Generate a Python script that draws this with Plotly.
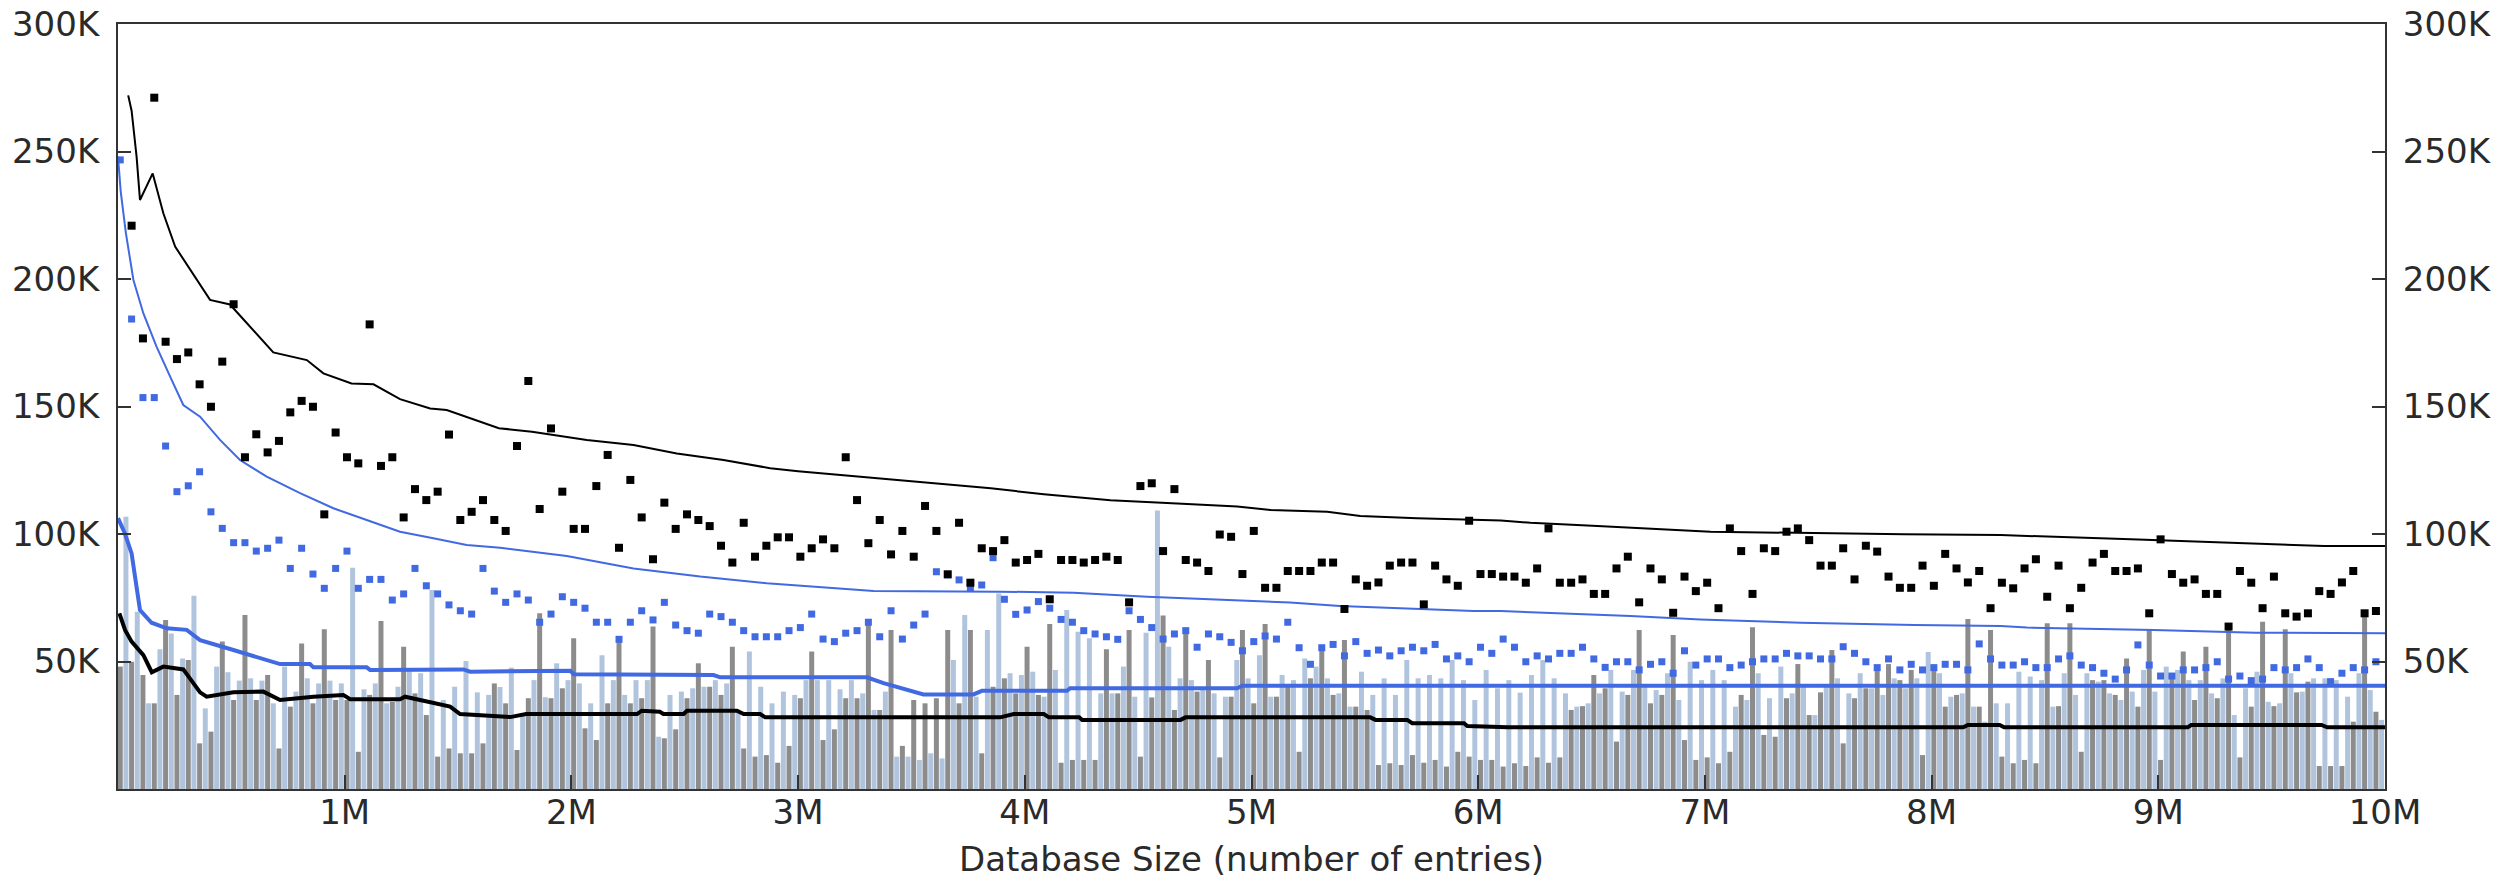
import plotly.graph_objects as go

# ---------------- data (values in thousands, x positions in entries) ----------------
n_points = 200
db_size = [10_000 + 50_000 * i for i in range(n_points)]

black_pts = [None, 220.9, 176.7, 271.1, 175.4, 168.6, 171.2, 158.7, 149.9, 167.6,
             190.1, 130.1, 139.1, 132.0, 136.5, 147.7, 152.2, 149.9, 107.7, 139.8,
             130.1, 127.7, 182.2, 126.7, 130.1, 106.5, 117.6, 113.3, 116.6, 139.0,
             105.5, 108.7, 113.3, 105.5, 101.2, 134.5, 160.0, 109.8, 141.4, 116.6,
             102.0, 102.0, 118.8, 131.0, 94.6, 121.2, 106.5, 90.1, 112.3, 102.0,
             107.7, 105.5, 103.1, 95.4, 88.8, 104.4, 91.1, 95.4, 98.7, 98.7,
             91.1, 94.4, 97.9, 94.4, 130.1, 113.3, 96.4, 105.5, 92.0, 101.2,
             91.1, 111.0, 101.2, 84.2, 104.4, 80.9, 94.4, 93.3, 97.6, 88.8,
             89.8, 92.2, 74.4, 89.8, 89.8, 88.8, 89.8, 91.1, 89.8, 73.2,
             118.8, 119.9, 93.3, 117.6, 89.8, 88.8, 85.5, 99.8, 98.9, 84.3,
             101.2, 78.9, 78.9, 85.5, 85.5, 85.5, 88.8, 88.8, 70.6, 82.2,
             79.7, 81.0, 87.6, 88.8, 88.8, 72.4, 87.6, 82.2, 79.7, 105.2,
             84.3, 84.3, 83.3, 83.3, 80.9, 86.5, 102.2, 80.9, 80.9, 82.2,
             76.5, 76.5, 86.5, 91.1, 73.2, 86.5, 82.2, 69.1, 83.3, 77.6,
             80.9, 70.9, 102.2, 93.3, 76.5, 94.4, 93.3, 100.9, 102.2, 97.6,
             87.6, 87.6, 94.4, 82.2, 95.4, 93.1, 83.3, 78.9, 78.9, 87.6,
             79.7, 92.2, 86.5, 81.0, 85.5, 70.9, 80.9, 78.7, 86.5, 90.1,
             75.4, 87.6, 70.9, 78.9, 88.8, 92.2, 85.5, 85.5, 86.5, 68.9,
             97.9, 84.3, 80.9, 82.2, 76.5, 76.5, 63.7, 85.5, 80.9, 70.9,
             83.3, 68.9, 67.6, 68.9, 77.6, 76.5, 81.0, 85.5, 68.9, 69.8]

blue_pts = [246.7, 184.3, 153.5, 153.5, 134.5, 116.6, 118.9, 124.4, 108.7, 102.2,
            96.6, 96.6, 93.3, 94.4, 97.6, 86.5, 94.4, 84.3, 78.7, 86.5,
            93.3, 78.7, 82.2, 82.2, 74.1, 76.5, 86.5, 79.7, 76.5, 72.2,
            69.9, 68.6, 86.5, 77.6, 73.2, 76.5, 74.1, 65.4, 68.6, 75.4,
            73.2, 70.9, 65.4, 65.4, 58.7, 65.4, 69.9, 66.3, 73.2, 64.3,
            62.1, 61.1, 68.6, 67.6, 65.4, 62.1, 59.7, 59.7, 59.7, 62.1,
            63.3, 68.6, 58.8, 57.8, 61.1, 62.1, 65.4, 59.7, 69.9, 58.8,
            64.3, 68.6, 85.2, 84.0, 82.0, 79.0, 80.0, 90.7, 74.4, 68.5,
            70.2, 73.5, 70.9, 66.5, 65.4, 62.1, 60.8, 59.7, 58.7, 69.9,
            66.5, 63.3, 58.8, 60.8, 62.1, 55.6, 60.8, 59.7, 57.5, 54.2,
            57.8, 60.0, 58.8, 65.4, 55.4, 48.9, 55.4, 56.7, 52.2, 57.8,
            53.2, 54.5, 52.2, 54.2, 55.6, 54.2, 56.7, 51.0, 52.2, 49.9,
            55.6, 53.2, 58.8, 55.6, 49.9, 52.2, 51.0, 53.2, 53.2, 55.6,
            51.0, 47.7, 49.9, 49.9, 46.7, 48.9, 49.9, 45.4, 54.2, 48.6,
            51.0, 51.0, 47.6, 48.6, 49.9, 51.0, 51.0, 53.2, 52.2, 52.2,
            51.0, 51.0, 55.8, 53.2, 49.9, 47.6, 51.0, 46.7, 48.9, 46.7,
            47.6, 48.9, 48.9, 46.7, 56.9, 51.0, 48.6, 48.6, 49.9, 47.6,
            47.6, 51.0, 52.2, 48.6, 47.6, 45.4, 43.1, 46.7, 56.5, 48.6,
            44.3, 44.3, 46.7, 46.7, 47.6, 49.9, 43.1, 44.3, 42.5, 43.1,
            47.6, 46.7, 47.6, 51.0, 47.6, 42.1, 45.4, 47.6, 46.7, 49.9]

gray_bars = [48.0,
             49.9, 44.7, 33.6, 66.3, 36.9, 50.6, 17.9, 22.5, 57.8, 34.9,
             68.2, 34.9, 44.7, 15.9, 32.3, 57.1, 33.6, 62.6, 34.9, 34.9,
             14.6, 36.9, 65.9, 34.2, 55.8, 37.5, 29.0, 12.7, 15.9, 14.0,
             14.0, 17.9, 41.4,
             33.6, 15.3, 35.6, 68.9, 35.6, 39.5, 59.1, 23.8, 19.2, 33.6,
             58.4, 33.6, 35.6, 63.7, 19.9, 23.4, 35.6, 49.3, 40.1, 36.9,
             55.8, 15.9, 12.7, 13.3, 10.3, 16.9, 35.6, 53.9, 19.2, 23.4,
             35.6, 35.6, 64.3, 31.0, 62.4, 16.9, 34.9, 33.6, 35.6, 62.4,
             33.6, 62.4, 14.0, 40.1,
             43.4, 37.5, 55.8, 36.9, 64.7, 10.3, 11.4, 11.4, 11.4, 54.8,
             37.5, 62.4, 12.7, 35.9, 68.0, 31.0, 62.4, 38.2, 50.6, 12.4,
             36.2, 62.4, 33.6, 64.7, 36.2, 40.1, 14.6, 43.4, 54.8, 36.9,
             58.4, 32.3, 31.0, 9.4, 10.1, 9.4, 13.3, 10.3, 11.4, 8.8,
             14.6, 12.7, 11.4, 11.4,
             8.8, 10.1, 9.0, 12.4, 10.3, 12.4, 31.0, 32.5, 44.7, 39.5,
             18.6, 36.9, 62.4, 33.6, 36.9, 60.4, 19.2, 11.4, 12.4, 10.1,
             14.6, 36.9, 63.4, 21.2, 20.5, 35.6, 49.0, 29.0, 37.9, 54.5,
             17.9, 35.6, 39.5, 48.2, 49.0, 42.7, 46.7, 13.3, 46.7, 32.3,
             36.9, 66.7, 32.3, 62.4,
             12.7, 10.1, 11.4, 10.1, 65.0, 32.5, 65.0, 14.6, 42.7, 42.7,
             36.9, 51.2, 32.3, 62.6, 11.4, 44.7, 53.9, 34.9, 55.8, 35.6,
             63.7, 12.4, 32.3, 65.6, 32.5, 62.6, 37.9, 42.1, 9.0, 9.0,
             9.0, 26.4, 68.2, 30.3]

light_bars = [106.8, 69.5, 33.6, 54.8, 61.0, 51.2, 75.8, 31.6, 48.0, 45.8,
              42.5, 43.4, 42.5, 33.6, 48.0, 38.2, 43.4, 41.4, 42.5, 41.4,
              86.8, 39.1, 41.4, 33.6, 40.1, 46.7, 45.4, 78.0, 34.9, 40.1,
              50.2, 37.9, 36.9, 40.0,
              47.6, 29.7, 42.7, 36.0, 49.3, 42.7, 41.4, 33.6, 52.5, 42.7,
              36.9, 42.7, 42.7, 20.5, 36.9, 38.2, 39.5, 40.1, 42.7, 41.4,
              31.0, 53.9, 40.1, 33.6, 38.2, 36.9, 42.7, 42.7, 42.7, 39.1,
              42.7, 37.5, 31.0, 38.2, 12.7, 12.7, 11.4, 14.0, 12.0, 50.6,
              68.2, 36.2, 62.4, 76.7,
              45.4, 44.7, 46.0, 36.2, 46.7, 70.2, 61.7, 59.1, 37.5, 37.5,
              48.0, 36.2, 61.3, 109.2, 55.8, 43.4, 42.7, 39.5, 37.5, 36.2,
              50.6, 43.4, 52.5, 36.2, 44.7, 42.7, 51.2, 48.0, 43.4, 37.5,
              32.3, 46.0, 36.9, 43.4, 36.9, 50.6, 43.4, 44.7, 43.4, 50.6,
              42.7, 34.9, 46.7, 39.5,
              42.7, 37.8, 44.7, 50.6, 43.4, 37.5, 32.3, 33.6, 37.5, 46.7,
              38.2, 46.7, 40.1, 38.8, 45.4, 34.9, 49.9, 42.7, 46.7, 42.7,
              32.3, 34.9, 45.4, 35.6, 48.0, 37.5, 40.1, 29.0, 40.8, 43.4,
              37.5, 45.4, 39.5, 36.9, 43.4, 39.5, 43.4, 53.7, 45.4, 36.2,
              37.5, 32.3, 26.4, 33.6,
              33.6, 46.0, 44.1, 42.7, 32.3, 45.4, 36.9, 45.4, 42.1, 37.5,
              34.9, 38.2, 46.7, 38.2, 48.0, 46.7, 42.7, 42.7, 37.5, 43.4,
              29.0, 39.5, 46.0, 34.2, 33.6, 45.4, 38.2, 43.4, 43.4, 42.7,
              36.2, 45.4, 38.8, 27.1]

# thin black curve (millions, thousands)
thin_black_x = [0.045, 0.06, 0.082, 0.097, 0.153, 0.2, 0.252, 0.31, 0.406, 0.494,
                0.568, 0.685, 0.833, 0.906, 1.03, 1.127, 1.244, 1.377, 1.45, 1.68,
                1.826, 2.068, 2.274, 2.465, 2.671, 2.877, 3.0, 3.27, 3.583, 3.85,
                4.084, 4.378, 4.672, 4.937, 5.084, 5.334, 5.48, 5.73, 6.1, 6.231,
                6.526, 6.826, 7.025, 7.878, 8.305, 8.879, 9.335, 9.732, 10.0]
thin_black_y = [272, 266, 248, 231, 241.4, 225.8, 212.7, 204.8, 191.8, 190,
                182.6, 171.2, 168.2, 163, 159, 158.7, 152.9, 149.2, 148.6, 141.5,
                140.1, 136.9, 134.9, 131.6, 129, 125.8, 124.6, 122.5, 120.1, 117.9,
                115.6, 113.2, 112, 110.8, 109.4, 108.7, 107.1, 106.2, 105.3, 104.4,
                103.1, 101.8, 100.9, 99.9, 99.6, 97.9, 96.6, 95.3, 95.3]

thin_blue_x = [0.0, 0.012, 0.035, 0.068, 0.112, 0.17, 0.23, 0.288, 0.362, 0.45,
               0.538, 0.656, 0.803, 0.95, 1.097, 1.244, 1.391, 1.538, 1.686, 1.98,
               2.274, 2.568, 2.862, 3.157, 3.333, 3.892, 4.215, 4.54, 4.834, 5.17,
               5.39, 5.687, 5.98, 6.099, 6.327, 6.672, 6.98, 7.424, 7.925, 8.305,
               8.42, 8.98, 9.43, 10.0]
thin_blue_y = [248, 234.3, 217.9, 199.6, 186.5, 173.5, 161.7, 150.6, 146, 136.9,
               129, 122.5, 116, 110.1, 105.5, 100.9, 98.3, 95.7, 94.6, 91.4,
               86.5, 83.3, 80.7, 78.9, 77.6, 77.4, 77, 75.4, 74.4, 73.1,
               71.8, 70.9, 69.8, 69.8, 69.1, 67.8, 66.5, 65.2, 64.3, 63.9,
               63.3, 62.4, 61.3, 61.1]

thick_blue_x = [0.0, 0.03, 0.06, 0.097, 0.148, 0.215, 0.303, 0.362, 0.509, 0.656,
                0.715, 0.847, 0.862, 1.097, 1.112, 1.524, 1.553, 1.995, 2.01, 2.627,
                2.656, 3.303, 3.377, 3.553, 3.774, 3.811, 4.186, 4.2, 4.937, 4.959, 10.0]
thick_blue_y = [106.2, 100.3, 92.4, 70.2, 65.2, 63.0, 62.4, 58.4, 54.5, 50.6,
                49.0, 49.0, 47.7, 47.7, 46.7, 46.9, 46.0, 46.4, 45.0, 44.7,
                43.8, 43.8, 41.5, 37.1, 37.1, 38.5, 38.5, 39.5, 39.5, 40.5, 40.5]

thick_black_x = [0.006, 0.031, 0.06, 0.112, 0.149, 0.2, 0.288, 0.362, 0.391, 0.435,
                 0.509, 0.641, 0.715, 0.862, 0.994, 1.024, 1.244, 1.266, 1.318, 1.465,
                 1.509, 1.73, 1.8, 2.29, 2.31, 2.39, 2.406, 2.495, 2.51, 2.73,
                 2.76, 2.833, 2.855, 3.892, 3.951, 4.084, 4.106, 4.24, 4.253, 4.687,
                 4.709, 5.524, 5.547, 5.687, 5.709, 5.937, 5.952, 6.13, 8.14, 8.16,
                 8.3, 8.32, 9.13, 9.145, 9.72, 9.745, 10.0]
thick_black_y = [68.9, 62.4, 57.8, 52.5, 45.8, 48.0, 46.9, 37.9, 36.2, 36.9,
                 37.9, 38.2, 34.9, 36.2, 36.9, 35.2, 35.2, 36.2, 35.2, 32.3,
                 29.4, 28.2, 29.4, 29.4, 30.7, 30.3, 29.4, 29.4, 30.7, 30.7,
                 29.4, 29.4, 28.1, 28.1, 29.4, 29.4, 28.1, 28.1, 27.1, 27.1,
                 28.1, 28.1, 27.1, 27.1, 25.8, 25.8, 24.7, 24.2, 24.2, 25.1,
                 25.1, 24.2, 24.2, 25.1, 25.1, 24.2, 24.2]

x_tick_vals = [1e6, 2e6, 3e6, 4e6, 5e6, 6e6, 7e6, 8e6, 9e6, 10e6]
x_tick_text = ["1M", "2M", "3M", "4M", "5M", "6M", "7M", "8M", "9M", "10M"]
y_tick_vals = [50e3, 100e3, 150e3, 200e3, 250e3, 300e3]
y_tick_text = ["50K", "100K", "150K", "200K", "250K", "300K"]
x_title = "Database Size (number of entries)"

# ---------------- helpers ----------------
K = 1000.0
M = 1_000_000.0


def scale(vals, f):
    return [None if v is None else v * f for v in vals]


BLUE = "#4169E1"
GRAY = "#8c8c8c"
LIGHT = "#b0c4de"
FONT = "DejaVu Sans"
FSIZE = 34
TXT = "#2a2a2a"

fig = go.Figure()

fig.add_trace(go.Bar(x=db_size, y=scale(gray_bars, K), width=22000, offset=-11000,
                     marker=dict(color=GRAY, line=dict(width=0)), hoverinfo="skip"))
fig.add_trace(go.Bar(x=db_size, y=scale(light_bars, K), width=22000, offset=14000,
                     marker=dict(color=LIGHT, line=dict(width=0)), hoverinfo="skip"))

fig.add_trace(go.Scatter(x=scale(thick_black_x, M), y=scale(thick_black_y, K), mode="lines",
                         line=dict(color="#000000", width=4)))
fig.add_trace(go.Scatter(x=scale(thick_blue_x, M), y=scale(thick_blue_y, K), mode="lines",
                         line=dict(color=BLUE, width=4)))
fig.add_trace(go.Scatter(x=scale(thin_blue_x, M), y=scale(thin_blue_y, K), mode="lines",
                         line=dict(color=BLUE, width=2)))
fig.add_trace(go.Scatter(x=scale(thin_black_x, M), y=scale(thin_black_y, K), mode="lines",
                         line=dict(color="#000000", width=2)))
fig.add_trace(go.Scatter(x=db_size, y=scale(blue_pts, K), mode="markers",
                         marker=dict(symbol="square", size=7, color=BLUE, line=dict(width=0))))
fig.add_trace(go.Scatter(x=db_size, y=scale(black_pts, K), mode="markers", yaxis="y2",
                         marker=dict(symbol="square", size=8, color="#000000", line=dict(width=0))))

axis_common = dict(showgrid=False, zeroline=False, showline=True, linecolor="#333333",
                   linewidth=2, ticks="inside", tickcolor="#333333", tickwidth=2,
                   automargin=False,
                   tickfont=dict(family=FONT, size=FSIZE, color=TXT))

fig.update_layout(
    width=2509, height=879,
    margin=dict(l=118, r=124, t=24, b=90, autoexpand=False),
    plot_bgcolor="white", paper_bgcolor="white",
    showlegend=False, barmode="overlay",
    font=dict(family=FONT, size=FSIZE, color=TXT),
    xaxis=dict(range=[0, 10e6], tickvals=x_tick_vals, ticktext=x_tick_text,
               ticklen=14, mirror=True, ticklabelstandoff=-8,
               **axis_common),
    yaxis=dict(range=[0, 300e3], tickvals=y_tick_vals, ticktext=y_tick_text,
               ticklen=13, ticklabelstandoff=10, **axis_common),
    yaxis2=dict(range=[0, 300e3], tickvals=y_tick_vals, ticktext=y_tick_text,
                overlaying="y", side="right", ticklen=13, ticklabelstandoff=9,
                **axis_common),
    annotations=[dict(text=x_title, xref="paper", yref="paper", x=0.5, y=0,
                      xanchor="center", yanchor="bottom", yshift=-90,
                      showarrow=False, borderpad=0, borderwidth=0,
                      font=dict(family=FONT, size=FSIZE, color=TXT))],
)

fig.write_html("out.html",
               config={"displayModeBar": False},
               post_script="document.body.style.margin='0px';document.body.style.padding='0px';")
